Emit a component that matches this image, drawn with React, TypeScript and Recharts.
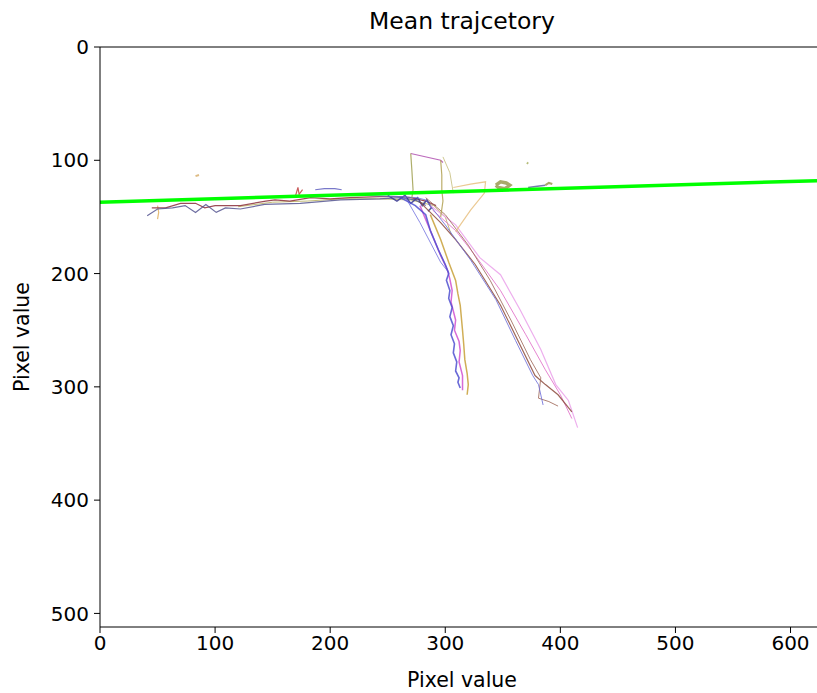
import React from 'react';
import { ComposedChart, Line, XAxis, YAxis, ReferenceLine } from 'recharts';

type Pt = [number, number];

// x/y in image pixel coordinates (y grows downward)
const meanLine: Pt[] = [[0, 137], [623, 118]];

const navyLeft: Pt[] = [
  [41, 149], [50, 143], [63, 142], [74, 140], [83, 146], [92, 139], [101, 146], [109, 142],
  [122, 143], [143, 139], [174, 138], [209, 135], [243, 134], [261, 133], [274, 135], [283, 140],
];
const maroonLeft: Pt[] = [
  [45, 142], [57, 142], [70, 138], [83, 138], [91, 142], [100, 140], [122, 140], [144, 136],
  [152, 135], [165, 136], [183, 133], [200, 134], [217, 133], [243, 132], [261, 132], [270, 133],
  [283, 136], [292, 140],
];
const oliveBand: Pt[] = [
  [120, 141], [150, 137], [180, 136], [210, 134], [240, 134], [270, 135], [290, 140], [300, 150], [305, 165],
];
const navyCluster: Pt[] = [
  [250, 131], [258, 136], [265, 131], [270, 138], [276, 133], [280, 140], [284, 135], [288, 142], [285, 145],
];
const blueWide: Pt[] = [
  [230, 131], [260, 132], [275, 133], [283, 135], [300, 157], [322, 188], [344, 223], [361, 259],
  [376, 290], [381, 298], [385, 316],
];
const brownWide: Pt[] = [
  [278, 137], [296, 155], [309, 170], [326, 192], [348, 228], [365, 263], [378, 290], [387, 298],
  [398, 307], [410, 322],
];
const brownWide2: Pt[] = [
  [283, 133], [300, 148], [320, 175], [339, 206], [357, 241], [374, 276], [383, 292], [381, 310],
  [390, 313], [398, 317],
];
const pinkWide: Pt[] = [
  [287, 140], [309, 157], [330, 186], [348, 201], [365, 232], [383, 267], [396, 298], [407, 312], [415, 336],
];
const pinkWide2: Pt[] = [
  [289, 144], [309, 162], [326, 184], [348, 215], [370, 254], [387, 285], [400, 307], [410, 328],
];
const blueVertical: Pt[] = [
  [261, 133], [274, 140], [283, 148], [287, 162], [294, 179], [300, 192], [303, 200], [301, 206],
  [304, 215], [303, 222], [306, 230], [304, 238], [307, 246], [305, 254], [308, 262], [307, 270],
  [310, 278], [309, 286], [312, 292], [311, 296], [313, 301],
];
const magentaVertical: Pt[] = [
  [278, 140], [285, 157], [296, 184], [302, 197], [304, 205], [306, 215], [305, 225], [309, 241],
  [308, 250], [312, 260], [313, 268], [312, 278], [315, 290], [315, 303],
];
const goldVertical: Pt[] = [
  [287, 148], [296, 170], [303, 190], [309, 206], [311, 218], [313, 228], [315, 250], [316, 262],
  [317, 276], [319, 288], [320, 298], [319, 307],
];
const blueSteep: Pt[] = [[265, 132], [278, 155], [296, 190], [303, 199]];
const purpleTop: Pt[] = [[270, 94], [296, 100], [298, 102]];
const oliveDrop: Pt[] = [[270, 94], [271, 109], [272, 126], [271, 133]];
const oliveDrop2: Pt[] = [[296, 100], [297, 113], [297, 126], [298, 136], [296, 150]];
const oliveCurve: Pt[] = [[298, 97], [304, 111], [307, 129]];
const tanHook: Pt[] = [[307, 124], [322, 121], [335, 119], [334, 129], [322, 144], [309, 163]];
const oliveBlob: Pt[] = [[344, 122], [348, 119], [353, 120], [356, 122], [352, 125], [346, 124], [344, 122]];
const oliveDot: Pt[] = [[371, 102], [372, 103]];
const navyRight: Pt[] = [[372, 124], [380, 123], [387, 122]];
const oliveRight: Pt[] = [[387, 122], [390, 120], [393, 121]];
const redBits: Pt[] = [[170, 131], [172, 124], [173, 130], [176, 126]];
const blueBits: Pt[] = [[187, 126], [195, 125], [204, 125], [210, 126]];
const tanDot: Pt[] = [[83, 114], [86, 113]];
const tanLeft: Pt[] = [[50, 140], [51, 146], [50, 152]];

const xTicks = [0, 100, 200, 300, 400, 500, 600];
const yTicks = [0, 100, 200, 300, 400, 500];

const toRows = (pts: Pt[]) => pts.map(([x, y]) => ({ x, y }));

const series = [
  { id: 'tanLeft', pts: tanLeft, color: '#e0b060', w: 1.2 },
  { id: 'tanDot', pts: tanDot, color: '#d8b070', w: 2 },
  { id: 'oliveBand', pts: oliveBand, color: '#b8b060', w: 1 },
  { id: 'maroonLeft', pts: maroonLeft, color: '#8b2e3a', w: 1.2 },
  { id: 'navyLeft', pts: navyLeft, color: '#555590', w: 1.2 },
  { id: 'navyCluster', pts: navyCluster, color: '#3a3a90', w: 1.5 },
  { id: 'redBits', pts: redBits, color: '#c04040', w: 1.2 },
  { id: 'blueBits', pts: blueBits, color: '#6060c0', w: 1.2 },
  { id: 'pinkWide', pts: pinkWide, color: '#eaa0ea', w: 1.2 },
  { id: 'pinkWide2', pts: pinkWide2, color: '#e070c8', w: 1 },
  { id: 'brownWide', pts: brownWide, color: '#8c4a3c', w: 1.2 },
  { id: 'brownWide2', pts: brownWide2, color: '#a06a5a', w: 1 },
  { id: 'blueWide', pts: blueWide, color: '#7070d8', w: 1 },
  { id: 'blueSteep', pts: blueSteep, color: '#7878e0', w: 1 },
  { id: 'goldVertical', pts: goldVertical, color: '#c8a038', w: 1.5 },
  { id: 'magentaVertical', pts: magentaVertical, color: '#d050d0', w: 1.5 },
  { id: 'blueVertical', pts: blueVertical, color: '#5050d0', w: 1.6 },
  { id: 'purpleTop', pts: purpleTop, color: '#b050b0', w: 1.2 },
  { id: 'oliveDrop', pts: oliveDrop, color: '#a0a050', w: 1.2 },
  { id: 'oliveDrop2', pts: oliveDrop2, color: '#b0a050', w: 1.2 },
  { id: 'oliveCurve', pts: oliveCurve, color: '#c8c080', w: 1 },
  { id: 'tanHook', pts: tanHook, color: '#e8c080', w: 1.2 },
  { id: 'oliveBlob', pts: oliveBlob, color: '#9a9a50', w: 3.5 },
  { id: 'oliveDot', pts: oliveDot, color: '#a8b060', w: 2 },
  { id: 'navyRight', pts: navyRight, color: '#6060a0', w: 1.5 },
  { id: 'oliveRight', pts: oliveRight, color: '#9a9a50', w: 2 },
];

const font = 'DejaVu Sans, sans-serif';

const App: React.FC = () => {
  return (
    <div style={{ position: 'absolute', left: 0, top: 0, width: 817, height: 693, background: '#fff', fontFamily: font }}>
      <div style={{ position: 'absolute', left: 0, width: 924, top: 7, textAlign: 'center', fontSize: 23.5, color: '#000' }}>
        Mean trajcetory
      </div>
      <ComposedChart width={817} height={693} margin={{ top: 47, right: 0, bottom: 0, left: 0 }}>
        <XAxis
          type="number"
          dataKey="x"
          domain={[0, 623]}
          ticks={xTicks}
          allowDataOverflow
          height={66}
          tickSize={6}
          tickMargin={3}
          stroke="#000"
          tick={{ fill: '#000', fontSize: 20, fontFamily: font }}
        />
        <YAxis
          type="number"
          dataKey="y"
          domain={[0, 512]}
          reversed
          ticks={yTicks}
          allowDataOverflow
          width={100}
          tickSize={6}
          tickMargin={5}
          stroke="#000"
          tick={{ fill: '#000', fontSize: 20, fontFamily: font }}
        />
        <ReferenceLine y={0} stroke="#000" strokeWidth={1} />
        {series.map((s) => (
          <Line
            key={s.id}
            data={toRows(s.pts)}
            dataKey="y"
            type="linear"
            stroke={s.color}
            strokeWidth={s.w}
            strokeOpacity={0.85}
            dot={false}
            isAnimationActive={false}
          />
        ))}
        <Line
          data={toRows(meanLine)}
          dataKey="y"
          type="linear"
          stroke="#00ff00"
          strokeWidth={3.5}
          dot={false}
          isAnimationActive={false}
        />
      </ComposedChart>
      <div style={{ position: 'absolute', left: 0, width: 924, top: 668, textAlign: 'center', fontSize: 20.5, color: '#000', lineHeight: '24px' }}>
        Pixel value
      </div>
      <div
        style={{
          position: 'absolute', left: 22, top: 337, fontSize: 20.5, color: '#000', whiteSpace: 'nowrap',
          transform: 'translate(-50%, -50%) rotate(-90deg)',
        }}
      >
        Pixel value
      </div>
    </div>
  );
};

export default App;
